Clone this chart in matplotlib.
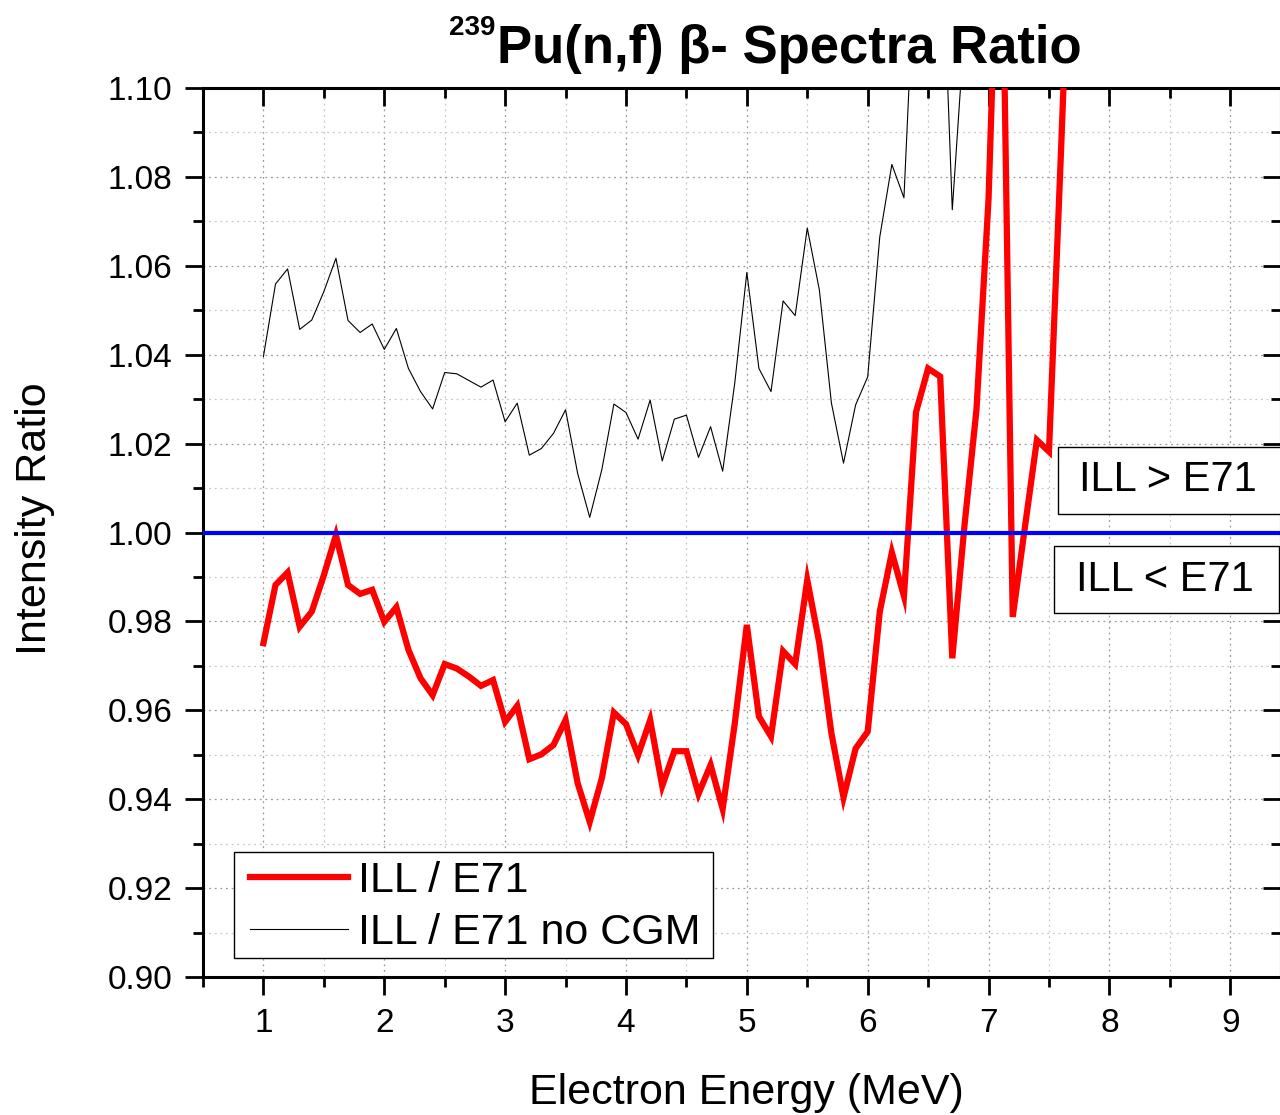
import numpy as np
import matplotlib
matplotlib.use("Agg")
import matplotlib.pyplot as plt
from matplotlib.patches import Rectangle
from matplotlib.ticker import MultipleLocator, FormatStrFormatter

plt.rcParams['font.family'] = ['Liberation Sans', 'DejaVu Sans']

# ILL / E71 ratio (with CGM), 0.1 MeV bins from 1.0 MeV
energy_red = np.round(np.arange(1.0, 7.75, 0.1), 1)
ratio_red = [
    0.9751, 0.9882, 0.9910, 0.9788, 0.9822, 0.9904, 0.9994, 0.9882, 0.9862, 0.9871,
    0.9799, 0.9832, 0.9736, 0.9672, 0.9634, 0.9704, 0.9694, 0.9676, 0.9655, 0.9668,
    0.9574, 0.9610, 0.9490, 0.9501, 0.9522, 0.9578, 0.9436, 0.9349, 0.9447, 0.9595,
    0.9569, 0.9499, 0.9578, 0.9430, 0.9508, 0.9508, 0.9412, 0.9477, 0.9378, 0.9570,
    0.9792, 0.9586, 0.9541, 0.9733, 0.9704, 0.9893, 0.9751, 0.9548, 0.9404, 0.9514,
    0.9552, 0.9822, 0.9955, 0.9857, 1.0271, 1.0369, 1.0351, 0.9717, 1.0013, 1.0276,
    1.0750, 1.1600, 0.9810, 1.0010, 1.0208, 1.0182, 1.0860, 1.1570,
]

# ILL / E71 ratio without CGM
energy_blk = np.round(np.arange(1.0, 6.95, 0.1), 1)
ratio_blk = [
    1.0396, 1.0559, 1.0593, 1.0457, 1.0478, 1.0542, 1.0617, 1.0477, 1.0450, 1.0469,
    1.0412, 1.0459, 1.0369, 1.0317, 1.0278, 1.0360, 1.0357, 1.0342, 1.0327, 1.0343,
    1.0249, 1.0291, 1.0174, 1.0189, 1.0223, 1.0276, 1.0133, 1.0034, 1.0141, 1.0289,
    1.0270, 1.0210, 1.0298, 1.0161, 1.0255, 1.0264, 1.0169, 1.0238, 1.0138, 1.0336,
    1.0585, 1.0369, 1.0317, 1.0521, 1.0488, 1.0685, 1.0546, 1.0291, 1.0156, 1.0287,
    1.0350, 1.0665, 1.0828, 1.0753, 1.1350, 1.1500, 1.1460, 1.0726, 1.1130, 1.1600,
]

labels = ["ILL / E71", "ILL / E71 no CGM"]

fig = plt.figure(figsize=(12.8, 11.15), dpi=100)
ax = fig.add_axes([203 / 1280, 138 / 1115, 1078 / 1280, 889 / 1115])

ax.plot(energy_red, ratio_red, color='#ff0000', lw=4.5, label=labels[0],
        solid_joinstyle='miter', zorder=4)
ax.plot(energy_blk, ratio_blk, color='black', lw=0.8, label=labels[1], zorder=3)
ax.axhline(1.0, color='#0000ff', lw=3.0, zorder=5)

ax.set_xlim(0.5, 9.42)
ax.set_ylim(0.90, 1.10)

ax.xaxis.set_major_locator(MultipleLocator(1))
ax.xaxis.set_minor_locator(MultipleLocator(0.5))
ax.yaxis.set_major_locator(MultipleLocator(0.02))
ax.yaxis.set_minor_locator(MultipleLocator(0.01))
ax.yaxis.set_major_formatter(FormatStrFormatter('%.2f'))

ax.grid(which='major', color='#9a9a9a', linestyle=(0, (1.5, 3)), lw=0.9, zorder=0)
ax.grid(which='minor', color='#c8c8c8', linestyle=(0, (1.5, 3)), lw=0.9, zorder=0)

for s in ax.spines.values():
    s.set_linewidth(2.2)

ax.tick_params(which='major', direction='out', length=13, width=2.0,
               labelsize=24, pad=9)
ax.tick_params(which='minor', direction='out', length=7, width=2.0)
ax.tick_params(which='both', top=True, right=True)
# mirrored ticks on top/right point inward
for t in ax.xaxis.get_major_ticks() + ax.xaxis.get_minor_ticks():
    t.tick2line.set_marker(3)
for t in ax.yaxis.get_major_ticks() + ax.yaxis.get_minor_ticks():
    t.tick2line.set_marker(0)

ax.set_xlabel("Electron Energy (MeV)", fontsize=31)
ax.xaxis.set_label_coords(0.504, -0.108)
ax.set_ylabel("Intensity Ratio", fontsize=31)
ax.yaxis.set_label_coords(-0.137, 0.516)

# legend: own frame, entries placed inside it
ax.add_patch(Rectangle((0.0288, 0.0214), 0.4443, 0.1192, transform=ax.transAxes,
                       facecolor='white', edgecolor='black', lw=1.0, zorder=8))
leg = ax.legend(loc='center left', bbox_to_anchor=(0.0436, 0.0787), borderaxespad=0,
                fontsize=31, frameon=False, handlelength=2.28, handletextpad=0.23,
                labelspacing=0.3, borderpad=0)
leg.set_zorder(10)

# region labels above / below unity
ax.add_patch(Rectangle((0.793, 0.521), 0.25, 0.075, transform=ax.transAxes,
                       facecolor='white', edgecolor='black', lw=1.0, zorder=8,
                       clip_on=False))
ax.add_patch(Rectangle((0.789, 0.409), 0.209, 0.076, transform=ax.transAxes,
                       facecolor='white', edgecolor='black', lw=1.0, zorder=8,
                       clip_on=False))
ax.text(0.895, 0.559, "ILL > E71", transform=ax.transAxes, fontsize=30,
        ha='center', va='center', zorder=9)
ax.text(0.892, 0.4466, "ILL < E71", transform=ax.transAxes, fontsize=30,
        ha='center', va='center', zorder=9)

fig.text(497 / 1280, 1 - 63 / 1115, "Pu(n,f) β- Spectra Ratio", fontsize=38,
         fontweight='bold', ha='left', va='baseline')
fig.text(495 / 1280, 1 - 35 / 1115, "239", fontsize=20, fontweight='bold',
         ha='right', va='baseline')

fig.savefig("out.png", dpi=100)
